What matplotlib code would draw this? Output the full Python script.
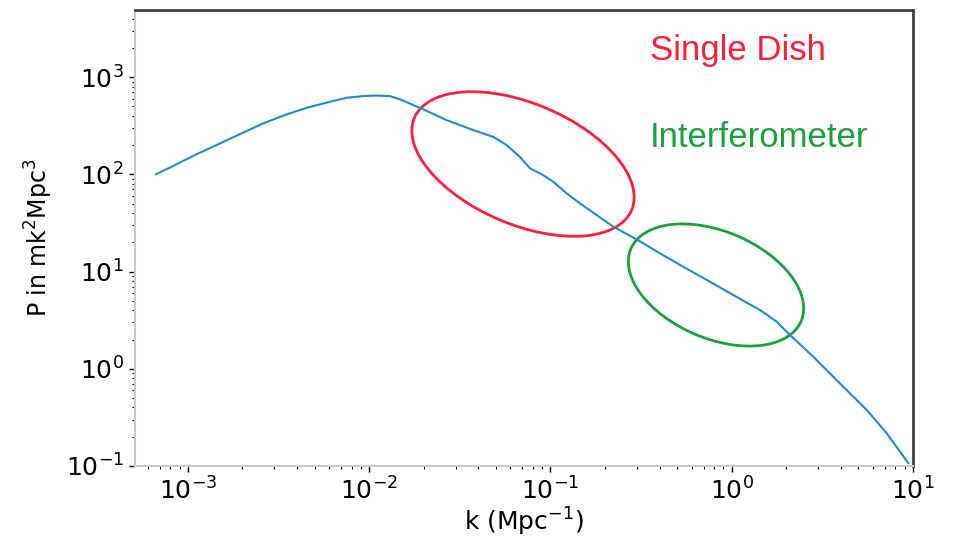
import numpy as np
import matplotlib
matplotlib.use("Agg")
import matplotlib.pyplot as plt
from matplotlib.patches import Ellipse

# power spectrum P(k)
k = np.array([6.66e-4, 8.30e-4, 1.117e-3, 1.439e-3, 1.936e-3, 2.60e-3, 3.50e-3, 4.52e-3,
              6.07e-3, 7.51e-3, 9.27e-3, 1.09e-2, 1.30e-2, 1.479e-2, 1.986e-2, 2.673e-2,
              3.750e-2, 4.834e-2, 5.728e-2, 6.785e-2, 7.711e-2, 9.126e-2, 0.1036, 0.1228,
              0.1455, 0.1798, 0.2222, 0.2992, 0.4018, 0.5405, 0.7586, 1.020, 1.432,
              1.770, 2.098, 2.819, 3.633, 4.688, 5.56, 7.16, 9.42])
P = np.array([100, 122, 161, 200, 259, 334, 413, 483,
              557, 613, 638, 645, 638, 590, 466, 361,
              285, 243, 200, 151, 115, 98.2, 83.8, 63.7,
              50.2, 38.1, 28.9, 21.4, 15.4, 11.2, 7.86, 5.73, 4.02,
              3.05, 2.22, 1.33, 0.828, 0.516, 0.377, 0.217, 0.107])

# regions marked on the plot (pixel centre, width, height, angle)
regions = ["Single Dish", "Interferometer"]
region_colors = ["#ff1f3a", "#1aa03c"]
ellipse_centre = [(523, 164), (716, 285)]
ellipse_size = [(236, 121), (185, 107)]
ellipse_angle = [-23, -23]
text_pos = [(650, 60), (650, 147)]

W, H = 966, 540
fig = plt.figure(figsize=(W / 100, H / 100), dpi=100)
ax = fig.add_axes([135 / W, 1 - 466 / H, (913 - 135) / W, (466 - 10) / H])

ax.loglog(k, P, color="#1f8ad0", lw=1.5)
ax.set_xlim(10 ** -3.292, 10)
ax.set_ylim(0.1, 10 ** 3.69)

ax.set_xlabel(r"k (Mpc$^{-1}$)", fontsize=18, labelpad=1)
ax.set_ylabel(r"P in mk$^2$Mpc$^3$", fontsize=17, labelpad=8)
ax.tick_params(which="major", length=4, width=1, labelsize=18, pad=4)
ax.tick_params(which="minor", length=2, width=0.8)

for side in ["left", "bottom"]:
    ax.spines[side].set_color("#c8c8c8")
    ax.spines[side].set_linewidth(1.5)
for side in ["top", "right"]:
    ax.spines[side].set_color("#404040")
    ax.spines[side].set_linewidth(2)

# ellipses drawn in pixel space so they keep their shape on log axes
px = fig.dpi_scale_trans
for (cx, cy), (ew, eh), ang, col in zip(ellipse_centre, ellipse_size, ellipse_angle, region_colors):
    e = Ellipse((cx / 100, (H - cy) / 100), ew / 100, eh / 100, angle=ang,
                fill=False, edgecolor=col, lw=2, transform=px, clip_on=False)
    ax.add_artist(e)

for name, (tx, ty), col in zip(regions, text_pos, region_colors):
    fig.text(tx / W, 1 - ty / H, name, color=col, fontsize=25,
             family="Liberation Sans", ha="left", va="baseline")

fig.savefig("out.png", dpi=100)
